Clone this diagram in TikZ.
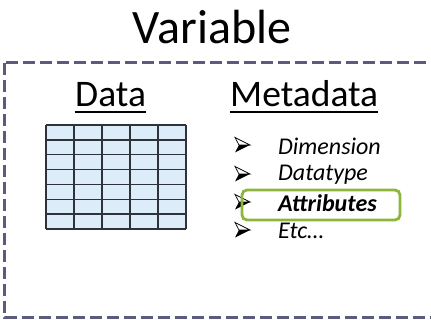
\documentclass[tikz,border=0pt]{standalone}
\usepackage{fontspec}
\setmainfont{Carlito}
\definecolor{dashc}{HTML}{5B5B7D}
\definecolor{cellc}{HTML}{DDECF9}
\definecolor{gridc}{HTML}{2E323A}
\definecolor{hlc}{HTML}{8DB53C}
\tikzset{
  head/.style={inner sep=0pt, anchor=base west, font=\fontsize{37.5}{42}\selectfont},
  item/.style={inner sep=0pt, anchor=west, font=\fontsize{24}{28}\selectfont\itshape},
  uline/.style={line width=2pt, black},
  pics/bullet/.style={code={
    \fill[black] (4,0) -- (15,0) -- (0,7.5) -- cycle;
    \filldraw[fill=white, draw=black, line width=0.7pt] (0,-7.5) -- (15,0) -- (4,0) -- cycle;
  }}
}
\begin{document}
\begin{tikzpicture}[x=1pt,y=-1pt]
\useasboundingbox (0,0) rectangle (431,320);
% title
\node[inner sep=0pt, anchor=base, font=\fontsize{48}{52}\selectfont] (title) at (212,44) {Variable};
% dashed frame
\begin{scope}
\clip (0,0) rectangle (431,320);
\draw[dashc, line width=3pt, dash pattern=on 12pt off 5pt] (4.5,63) rectangle (436,318);
\end{scope}
% headers
\node[head] (data) at (75,107) {Data};
\node[head] (meta) at (230,107) {Metadata};
\draw[uline] ([yshift=-5pt]data.base west) -- ([yshift=-5pt]data.base east);
\draw[uline] ([yshift=-5pt]meta.base west) -- ([yshift=-5pt]meta.base east);
% grid
\fill[cellc] (46,125) rectangle (186,229);
\foreach \i in {0,...,5} \draw[gridc, line width=1.4pt] (46+28*\i,125) -- (46+28*\i,229);
\foreach \j in {0,...,7} \draw[gridc, line width=1.4pt] (46,{125+14.857*\j}) -- (186,{125+14.857*\j});
% items
\node[item] (i1) at (278,146) {Dimension};
\node[item] (i2) at (278,175) {Datatype};
\node[item, font=\fontsize{24}{28}\selectfont\bfseries\itshape] (i3) at (278,203) {Attributes};
\node[item] (i4) at (278,231) {Etc\dots};
\foreach \y in {145,174,202,230} \pic at (235,\y) {bullet};
% highlight
\draw[hlc, line width=2.8pt, rounded corners=5pt] (242,190) rectangle (400,220);
\end{tikzpicture}
\end{document}
